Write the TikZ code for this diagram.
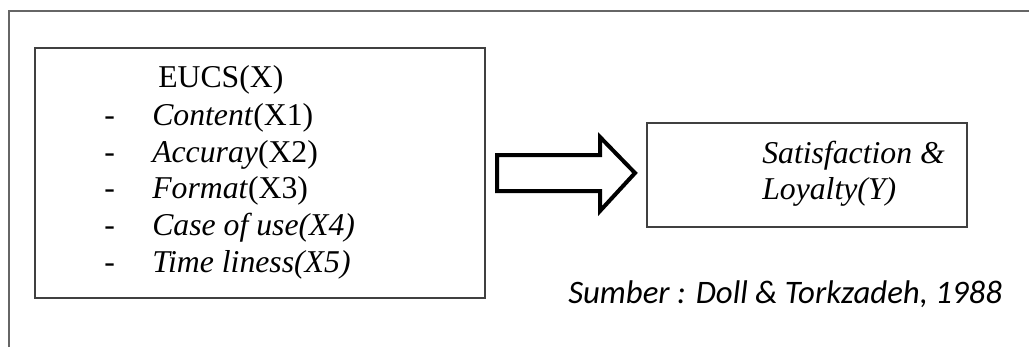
\documentclass[tikz,border=0pt]{standalone}
\usepackage{fontspec}
\setmainfont{Liberation Serif}
\newfontfamily\calfont{Carlito}
\begin{document}
\begin{tikzpicture}[x=0.75pt,y=-0.75pt,
  frameline/.style={line width=1.6pt,draw=black!60},
  boxline/.style={line width=1.5pt,draw=black!75},
  txt/.style={inner sep=0pt,anchor=base west,font=\fontsize{23.8}{28}\selectfont},
  dashtxt/.style={inner sep=0pt,anchor=base west,font=\fontsize{23.8}{28}\selectfont},
  src/.style={inner sep=0pt,anchor=base west,font=\calfont\itshape\fontsize{24.6}{29}\selectfont}]
\useasboundingbox (0,0) rectangle (1029,347);
% outer frame (cut off at right and bottom)
\coordinate (fa) at (9,347);
\coordinate (fb) at (9,11);
\coordinate (fc) at (1029,11);
\draw[frameline] (fa) -- (fb) -- (fc);
% left box
\node[boxline,draw,rectangle,minimum width=450*0.75pt,minimum height=250*0.75pt,inner sep=0pt] (lbox) at (260,173) {};
\node[txt] (t0) at (158,87) {EUCS(X)};
\node[dashtxt] (d1) at (104,125) {-};
\node[dashtxt] (d2) at (104,162) {-};
\node[dashtxt] (d3) at (104,198) {-};
\node[dashtxt] (d4) at (104,235) {-};
\node[dashtxt] (d5) at (104,272) {-};
\node[txt] (t1) at (152,125) {\textit{Content}(X1)};
\node[txt] (t2) at (152,162) {\textit{Accuray}(X2)};
\node[txt] (t3) at (152,198) {\textit{Format}(X3)};
\node[txt] (t4) at (152,235) {\textit{Case of use(X4)}};
\node[txt] (t5) at (152,272) {\textit{Time liness(X5)}};
% right box
\node[boxline,draw,rectangle,minimum width=320*0.75pt,minimum height=104*0.75pt,inner sep=0pt] (rbox) at (807,175) {};
\node[txt] (r1) at (762,163) {\textit{Satisfaction \&}};
\node[txt] (r2) at (762,199) {\textit{Loyalty(Y)}};
% block arrow
\draw[line width=3pt,draw=black,line join=miter] (497,155) -- (600,155) -- (600,137) -- (635,173) -- (600,211) -- (600,191) -- (497,191) -- cycle;
% source
\node[src] (s) at (568,303) {Sumber : Doll \& Torkzadeh, 1988};
\end{tikzpicture}
\end{document}
